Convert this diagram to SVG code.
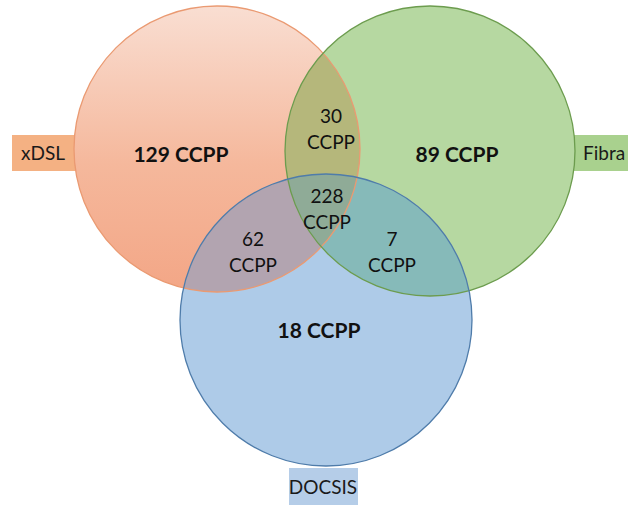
<svg xmlns="http://www.w3.org/2000/svg" width="628" height="505" viewBox="0 0 628 505">
  <style>
    .lbl { font-family: Lato, "Liberation Sans", sans-serif; font-size: 19px; fill: #111; text-anchor: middle; }
    .big { font-weight: bold; font-size: 21px; }
    .tag { font-family: Lato, "Liberation Sans", sans-serif; font-size: 19px; fill: #1a1a1a; }
  </style>
  <defs>
    <linearGradient id="gradXdsl" x1="0" y1="0" x2="0" y2="1">
      <stop offset="0" stop-color="#f9ded2"/>
      <stop offset="0.55" stop-color="#f5b89c"/>
      <stop offset="1" stop-color="#f3a686"/>
    </linearGradient>
    <clipPath id="clipXdsl"><circle cx="217" cy="149" r="143"/></clipPath>
    <clipPath id="clipFibra"><circle cx="430" cy="151" r="145"/></clipPath>
    <clipPath id="clipDocsis"><circle cx="326" cy="320" r="146"/></clipPath>
  </defs>

  <rect width="628" height="505" fill="#ffffff"/>

  <!-- xDSL set -->
  <g id="xdsl">
    <rect x="12" y="135" width="64" height="36" fill="#f4b183"/>
    <text class="tag" x="43" y="160" text-anchor="middle">xDSL</text>
    <circle cx="217" cy="149" r="143" fill="url(#gradXdsl)"/>
  </g>

  <!-- Fibra set -->
  <g id="fibra">
    <rect x="574" y="135" width="60" height="36" fill="#a9d18e"/>
    <text class="tag" x="583" y="160">Fibra</text>
    <circle cx="430" cy="151" r="145" fill="#b6d8a1"/>
  </g>

  <!-- DOCSIS set -->
  <g id="docsis">
    <rect x="289" y="468" width="69" height="37" fill="#b5cde8"/>
    <text class="tag" x="323" y="494" text-anchor="middle">DOCSIS</text>
    <circle cx="326" cy="320" r="146" fill="#aecbe8"/>
  </g>

  <!-- pairwise and triple intersections -->
  <g id="xdsl-fibra">
    <g clip-path="url(#clipXdsl)"><circle cx="430" cy="151" r="145" fill="#b5b77b"/></g>
  </g>
  <g id="xdsl-docsis">
    <g clip-path="url(#clipXdsl)"><circle cx="326" cy="320" r="146" fill="#b2a4b0"/></g>
  </g>
  <g id="fibra-docsis">
    <g clip-path="url(#clipFibra)"><circle cx="326" cy="320" r="146" fill="#86bab9"/></g>
  </g>
  <g id="all-three">
    <g clip-path="url(#clipXdsl)"><g clip-path="url(#clipFibra)"><circle cx="326" cy="320" r="146" fill="#8fab97"/></g></g>
  </g>

  <!-- outlines -->
  <g id="outlines" fill="none" stroke-width="1.3">
    <circle cx="217" cy="149" r="143" stroke="#ea9a72"/>
    <circle cx="430" cy="151" r="145" stroke="#6c9c4e"/>
    <circle cx="326" cy="320" r="146" stroke="#4f7caa"/>
  </g>

  <!-- counts -->
  <g id="counts">
    <text class="lbl big" x="181" y="162">129 CCPP</text>
    <text class="lbl big" x="457" y="162">89 CCPP</text>
    <text class="lbl big" x="319" y="338">18 CCPP</text>
    <text class="lbl" x="331" y="123">30</text>
    <text class="lbl" x="331" y="149">CCPP</text>
    <text class="lbl" x="327" y="203">228</text>
    <text class="lbl" x="327" y="229">CCPP</text>
    <text class="lbl" x="253" y="246">62</text>
    <text class="lbl" x="253" y="272">CCPP</text>
    <text class="lbl" x="392" y="246">7</text>
    <text class="lbl" x="392" y="272">CCPP</text>
  </g>
</svg>
